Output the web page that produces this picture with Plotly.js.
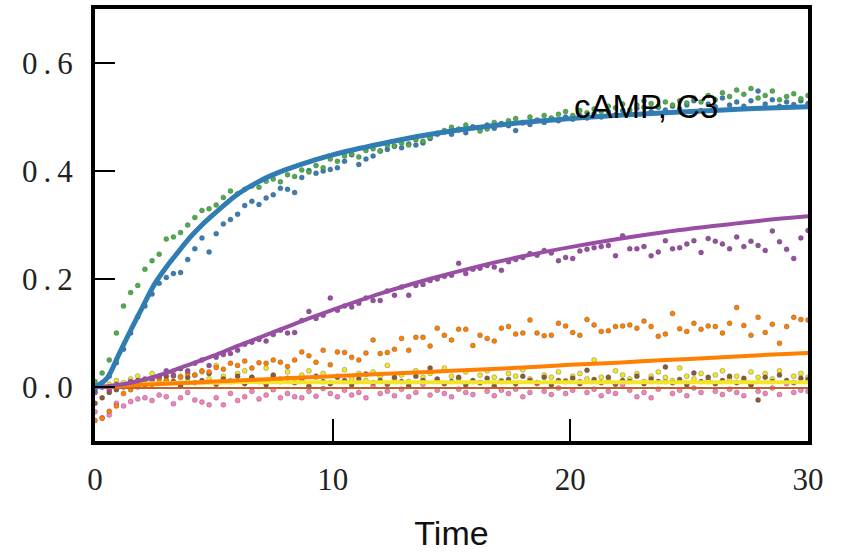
<!DOCTYPE html>
<html>
<head>
<meta charset="utf-8">
<script src="https://cdn.plot.ly/plotly-3.0.1.min.js"></script>
<style>
html,body{margin:0;padding:0;background:#fff;}
#chart{width:841px;height:552px;}
.ytick text{letter-spacing:6px;}
</style>
</head>
<body>
<div id="chart"></div>
<script>
// sample times
const time = [
  0,0.3,0.6,0.9,1.2,1.5,1.8,2.1,2.4,2.7,
  3,3.3,3.6,3.9,4.2,4.5,4.8,5.1,5.4,5.7,
  6,6.3,6.6,6.9,7.2,7.5,7.8,8.1,8.4,8.7,
  9,9.3,9.6,9.9,10.2,10.5,10.8,11.1,11.4,11.7,
  12,12.3,12.6,12.9,13.2,13.5,13.8,14.1,14.4,14.7,
  15,15.3,15.6,15.9,16.2,16.5,16.8,17.1,17.4,17.7,
  18,18.3,18.6,18.9,19.2,19.5,19.8,20.1,20.4,20.7,
  21,21.3,21.6,21.9,22.2,22.5,22.8,23.1,23.4,23.7,
  24,24.3,24.6,24.9,25.2,25.5,25.8,26.1,26.4,26.7,
  27,27.3,27.6,27.9,28.2,28.5,28.8,29.1,29.4,29.7,
  30
];
const greenDots = [
  0.01,0.026,0.05,0.1,0.15,0.175,0.188,0.218,0.234,0.246,
  0.274,0.278,0.286,0.3,0.314,0.327,0.33,0.337,0.351,0.363,
  0.358,0.366,0.372,0.37,0.381,0.385,0.38,0.393,0.39,0.402,
  0.398,0.41,0.406,0.422,0.418,0.428,0.431,0.426,0.438,0.441,
  0.437,0.447,0.446,0.452,0.448,0.458,0.455,0.462,0.47,0.475,
  0.481,0.478,0.485,0.48,0.474,0.478,0.49,0.486,0.493,0.497,
  0.489,0.5,0.494,0.503,0.498,0.505,0.51,0.503,0.512,0.508,
  0.515,0.51,0.52,0.517,0.524,0.513,0.522,0.518,0.525,0.52,
  0.528,0.522,0.53,0.526,0.535,0.528,0.54,0.532,0.545,0.538,
  0.55,0.542,0.553,0.535,0.54,0.548,0.532,0.538,0.543,0.534,
  0.54
];
const blueDots = [
  -0.005,0.005,0.02,0.045,0.07,0.1,0.13,0.15,0.172,0.192,
  0.203,0.21,0.212,0.236,0.256,0.276,0.25,0.284,0.302,0.31,
  0.32,0.336,0.344,0.338,0.35,0.356,0.368,0.366,0.36,0.388,
  0.401,0.396,0.4,0.403,0.406,0.418,0.43,0.412,0.422,0.428,
  0.437,0.44,0.446,0.443,0.45,0.448,0.452,0.46,0.468,0.472,
  0.468,0.476,0.471,0.482,0.478,0.485,0.479,0.488,0.484,0.475,
  0.49,0.486,0.494,0.49,0.497,0.493,0.5,0.496,0.503,0.498,
  0.506,0.5,0.51,0.504,0.512,0.507,0.516,0.53,0.51,0.518,
  0.513,0.52,0.515,0.522,0.53,0.512,0.524,0.519,0.535,0.522,
  0.528,0.52,0.53,0.548,0.524,0.532,0.52,0.528,0.523,0.53,
  0.525
];
const purpleDots = [
  -0.01,0.0,-0.005,0.005,0.002,0.01,0.004,0.015,0.012,0.02,
  0.03,0.022,0.034,0.03,0.044,0.05,0.04,0.055,0.06,0.062,
  0.068,0.079,0.083,0.088,0.085,0.097,0.105,0.1,0.101,0.123,
  0.14,0.127,0.133,0.165,0.142,0.15,0.148,0.155,0.165,0.16,
  0.16,0.178,0.17,0.185,0.17,0.188,0.19,0.197,0.2,0.205,
  0.207,0.229,0.21,0.218,0.22,0.225,0.222,0.216,0.232,0.236,
  0.24,0.247,0.244,0.253,0.248,0.234,0.24,0.238,0.252,0.255,
  0.258,0.26,0.262,0.243,0.28,0.256,0.256,0.26,0.243,0.25,
  0.271,0.256,0.258,0.265,0.271,0.249,0.275,0.27,0.265,0.256,
  0.278,0.26,0.27,0.262,0.253,0.289,0.269,0.255,0.238,0.276,
  0.29
];
const orangeDots = [
  -0.062,-0.058,-0.045,-0.035,-0.012,-0.005,0.0,0.008,0.005,0.015,
  0.012,0.02,0.018,0.025,0.022,0.03,0.028,0.036,0.033,0.044,
  0.04,0.048,0.035,0.045,0.044,0.05,0.046,0.038,0.05,0.065,
  0.058,0.046,0.068,0.041,0.065,0.064,0.055,0.05,0.063,0.087,
  0.062,0.064,0.07,0.09,0.068,0.092,0.092,0.076,0.109,0.096,
  0.087,0.107,0.107,0.077,0.096,0.09,0.085,0.109,0.112,0.098,
  0.1,0.124,0.1,0.095,0.096,0.118,0.113,0.101,0.096,0.125,
  0.115,0.103,0.104,0.112,0.113,0.115,0.109,0.122,0.112,0.094,
  0.098,0.136,0.108,0.103,0.118,0.107,0.113,0.112,0.1,0.118,
  0.147,0.114,0.096,0.129,0.101,0.116,0.081,0.112,0.129,0.125,
  0.124
];
const yellowDots = [
  -0.01,0.0,0.005,0.012,0.008,0.015,0.02,0.01,0.025,0.018,
  0.012,0.03,0.02,0.01,0.022,0.028,0.015,0.04,0.02,0.012,
  0.025,0.03,0.018,0.01,0.035,0.02,0.015,0.028,0.012,0.022,
  0.03,0.018,0.025,0.008,0.02,0.032,0.015,0.025,0.012,0.028,
  0.02,0.04,0.015,0.022,0.01,0.03,0.018,0.025,0.012,0.035,
  0.02,0.015,0.028,0.01,0.022,0.03,0.018,0.012,0.025,0.02,
  0.032,0.015,0.008,0.022,0.018,0.028,0.012,0.02,0.025,0.015,
  0.05,0.018,0.012,0.03,0.022,0.015,0.025,0.01,0.02,0.028,
  0.018,0.012,0.035,0.02,0.015,0.025,0.01,0.022,0.03,0.015,
  0.02,0.012,0.028,0.018,0.025,0.015,0.03,0.01,0.02,0.025,
  0.018
];
const brownDots = [
  -0.03,-0.02,-0.01,-0.005,0.0,0.005,0.012,0.004,0.015,0.008,
  0.02,0.01,0.002,0.018,0.008,0.012,0.025,0.005,0.015,0.01,
  0.02,0.006,0.018,0.012,0.004,0.022,0.01,0.016,0.008,0.014,
  0.002,0.02,0.01,0.006,0.018,0.012,0.004,0.015,0.024,0.008,
  0.012,0.005,0.018,0.01,0.002,0.02,0.012,0.035,0.015,0.006,
  0.01,0.018,0.004,0.012,0.008,0.016,0.002,0.01,0.014,0.006,
  0.02,0.012,0.008,0.018,0.004,0.012,0.01,0.016,0.006,0.031,
  0.014,0.008,0.018,0.005,0.012,0.01,0.02,0.006,0.015,0.01,
  0.037,0.008,0.014,0.004,0.026,0.01,0.018,0.006,0.012,0.02,
  0.008,0.016,0.004,-0.024,0.018,0.01,0.022,0.012,0.008,0.016,
  0.014
];
const pinkDots = [
  -0.046,-0.057,-0.052,-0.03,-0.035,-0.027,-0.022,-0.02,-0.025,-0.015,
  -0.018,-0.031,-0.02,-0.01,-0.024,-0.028,-0.033,-0.02,-0.033,-0.012,
  -0.025,-0.018,-0.008,-0.022,-0.015,-0.005,-0.02,-0.012,-0.018,-0.02,
  -0.008,-0.017,-0.003,-0.012,-0.018,-0.006,-0.015,-0.01,-0.02,0.002,
  -0.012,-0.008,-0.016,-0.004,-0.018,-0.01,0.005,-0.015,-0.006,-0.012,
  -0.018,-0.004,-0.01,-0.014,0.008,-0.008,-0.016,-0.006,-0.012,-0.004,
  -0.018,-0.01,0.006,-0.008,-0.014,-0.002,-0.012,-0.006,0.01,-0.01,
  -0.004,-0.016,-0.008,-0.012,0.004,-0.006,-0.018,-0.01,-0.02,-0.004,
  0.01,-0.012,-0.006,-0.016,-0.002,-0.01,0.012,-0.008,-0.014,-0.004,
  -0.01,-0.016,0.004,-0.008,-0.012,-0.002,-0.014,0.006,-0.01,-0.006,
  -0.008
];
// model curves
const fitTime = [0,0.5,1,1.5,2,2.5,3,3.5,4,4.5,5,6,7,8,9,10,12,14,16,18,20,22,24,26,28,30];
const blueFit = [0,0.016,0.06,0.105,0.148,0.19,0.222,0.25,0.277,0.3,0.32,0.357,0.383,0.402,0.417,0.43,0.45,0.467,0.48,0.49,0.497,0.503,0.508,0.512,0.516,0.519];
const purpleFit = [0,0.001,0.004,0.008,0.013,0.019,0.026,0.034,0.042,0.05,0.058,0.076,0.093,0.11,0.127,0.143,0.173,0.199,0.222,0.242,0.259,0.274,0.287,0.298,0.308,0.316];
const orangeFit = [0,0.001,0.002,0.003,0.004,0.005,0.006,0.007,0.008,0.009,0.01,0.012,0.014,0.016,0.018,0.02,0.024,0.028,0.032,0.036,0.041,0.045,0.05,0.054,0.059,0.063];
const yellowFit = [0,0.002,0.004,0.005,0.006,0.007,0.007,0.008,0.008,0.008,0.008,0.009,0.009,0.009,0.009,0.009,0.009,0.009,0.009,0.009,0.009,0.009,0.009,0.009,0.009,0.009];
const baseFit = [-0.002,-0.002,-0.002,-0.002,-0.002,-0.002,-0.002,-0.002,-0.002,-0.002,-0.002,-0.002,-0.002,-0.002,-0.002,-0.002,-0.002,-0.002,-0.002,-0.002,-0.002,-0.002,-0.002,-0.002,-0.002,-0.002];

const yTicks = [0, 0.2, 0.4, 0.6];
const yTickText = ['0.0', '0.2', '0.4', '0.6'];
const xTicks = [0, 10, 20, 30];
const label = 'cAMP, C3';

const C = {green:'#4daf4a', blue:'#377eb8', purple:'#984ea3', orange:'#ff7f00', yellow:'#f2e52a', brown:'#8a5a3a', pink:'#f781bf'};

function dots(y, color) {
  return {x: time, y: y, type: 'scatter', mode: 'markers',
    marker: {color: color, size: 5, line: {width: 0.6, color: 'rgba(60,60,60,0.5)'}},
    hoverinfo: 'skip', showlegend: false};
}
function fit(y, color, w) {
  return {x: fitTime, y: y, type: 'scatter', mode: 'lines',
    line: {color: color, width: w, shape: 'spline'}, hoverinfo: 'skip', showlegend: false};
}

const data = [
  dots(pinkDots, C.pink),
  dots(yellowDots, C.yellow),
  dots(brownDots, C.brown),
  dots(orangeDots, C.orange),
  dots(purpleDots, C.purple),
  dots(blueDots, C.blue),
  dots(greenDots, C.green),
  fit(yellowFit, C.yellow, 4),
  fit(baseFit, '#c0602a', 2),
  fit(orangeFit, C.orange, 4),
  fit(purpleFit, C.purple, 4),
  fit(blueFit, '#2f7db3', 5)
];

const layout = {
  width: 841, height: 552,
  margin: {l: 95, r: 33, t: 9, b: 111},
  paper_bgcolor: '#fff', plot_bgcolor: '#fff',
  showlegend: false,
  xaxis: {
    range: [0, 30], tickvals: xTicks, ticks: 'inside', ticklen: 22, tickwidth: 2, tickcolor: '#000',
    showline: true, linewidth: 4, linecolor: '#000', mirror: true,
    showgrid: false, zeroline: false, ticklabelstandoff: 8,
    tickfont: {family: 'Liberation Serif, serif', size: 31, color: '#222'},
    title: {text: 'Time', font: {family: 'Liberation Sans Narrow, Liberation Sans, sans-serif', size: 34, color: '#111'}, standoff: 28}
  },
  yaxis: {
    range: [-0.1, 0.7], tickvals: yTicks, ticktext: yTickText, ticks: 'inside', ticklen: 20, tickwidth: 2, tickcolor: '#000',
    showline: true, linewidth: 4, linecolor: '#000', mirror: true,
    showgrid: false, zeroline: false, ticklabelstandoff: 6,
    tickfont: {family: 'Liberation Serif, serif', size: 31, color: '#222'}
  },
  annotations: [{
    x: 23.2, y: 0.52, xref: 'x', yref: 'y', text: label, showarrow: false,
    font: {family: 'Liberation Sans, sans-serif', size: 33, color: '#000'}
  }]
};

Plotly.newPlot('chart', data, layout, {staticPlot: true, displayModeBar: false});
</script>
</body>
</html>
